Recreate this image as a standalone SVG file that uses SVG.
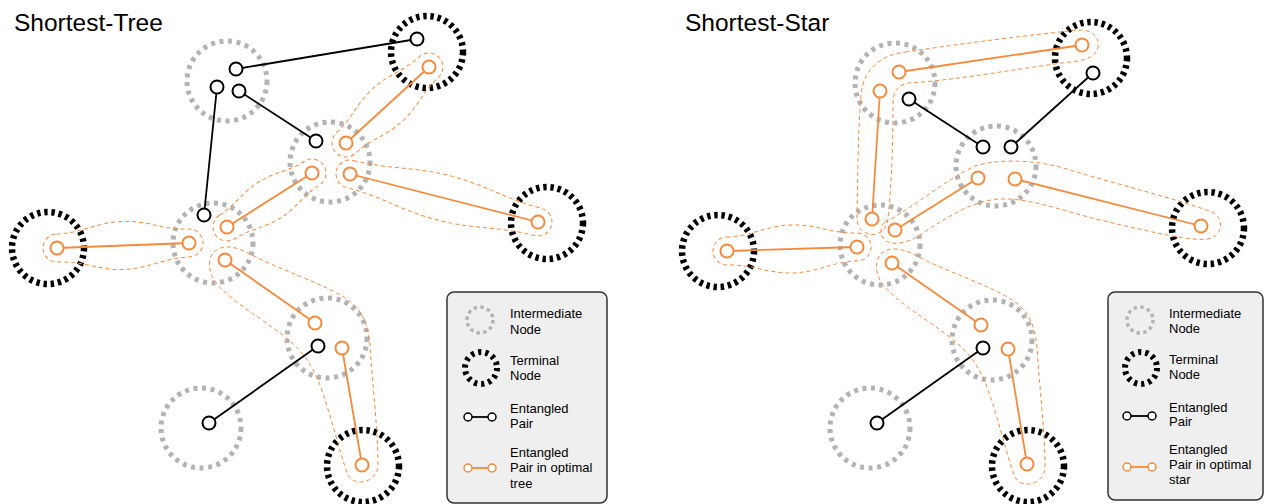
<svg xmlns="http://www.w3.org/2000/svg" width="1265" height="504" viewBox="0 0 1265 504">
<style>
.inter{fill:none;stroke:#b3b3b3;stroke-width:5;stroke-dasharray:4 4.6}
.term{fill:none;stroke:#000;stroke-width:6.5;stroke-dasharray:3.4 3.8}
.linter{fill:none;stroke:#b3b3b3;stroke-width:3.5;stroke-dasharray:3.4 3.4}
.lterm{fill:none;stroke:#000;stroke-width:6;stroke-dasharray:3.2 4}
.hull{fill:none;stroke:#f7893b;stroke-width:1;stroke-dasharray:4 3}
.ln{stroke:#000;stroke-width:1.8;fill:none}
.lno{stroke:#f7893b;stroke-width:1.8;fill:none}
.ep{fill:#fff;stroke:#000;stroke-width:2}
.epo{fill:#fff;stroke:#f7893b;stroke-width:2}
.lep{fill:#fff;stroke:#000;stroke-width:1.5}
.lepo{fill:#fff;stroke:#f7893b;stroke-width:1.5}
.title{font-family:"Liberation Sans",Arial,sans-serif;font-size:24.5px;fill:#000}
.leg{font-family:"Liberation Sans",Arial,sans-serif;font-size:13px;fill:#000}
.box{fill:#efefef;stroke:#333;stroke-width:1.5}
</style>

<!-- ================= LEFT PANEL ================= -->
<text class="title" x="14" y="31">Shortest-Tree</text>

<g id="L-I1"><circle class="inter" cx="227" cy="81" r="40"/></g>
<g id="L-I2"><circle class="inter" cx="330" cy="162" r="40"/></g>
<g id="L-I3"><circle class="inter" cx="213" cy="243" r="40"/></g>
<g id="L-I4"><circle class="inter" cx="327" cy="338" r="40"/></g>
<g id="L-I5"><circle class="inter" cx="201" cy="428" r="40"/></g>
<g id="L-T1"><circle class="term" cx="427" cy="52" r="36"/></g>
<g id="L-T2"><circle class="term" cx="547" cy="223" r="36"/></g>
<g id="L-T3"><circle class="term" cx="48" cy="248" r="36"/></g>
<g id="L-T4"><circle class="term" cx="363" cy="466" r="36"/></g>

<g id="L-connectors">
  <g id="L-hulls">
    <path class="hull" transform="translate(346,143) rotate(-42.5)" d="M0,-14 C22.5,-14 33.8,-22 56.3,-22 S90,-14 112.5,-14 A14,14 0 0 1 112.5,14 C90,14 78.8,22 56.3,22 S22.5,14 0,14 A14,14 0 0 1 0,-14Z"/>
    <path class="hull" transform="translate(227,227) rotate(-32.4)" d="M0,-14 C20.1,-14 30.2,-21 50.4,-21 S80.6,-14 100.7,-14 A14,14 0 0 1 100.7,14 C80.6,14 70.5,21 50.4,21 S20.1,14 0,14 A14,14 0 0 1 0,-14Z"/>
    <path class="hull" transform="translate(350,174) rotate(14.3)" d="M0,-14 C38.8,-14 58.2,-23 97,-23 S155.2,-14 194,-14 A14,14 0 0 1 194,14 C155.2,14 135.8,23 97,23 S38.8,14 0,14 A14,14 0 0 1 0,-14Z"/>
    <path class="hull" transform="translate(57,248) rotate(-2.2)" d="M0,-14 C26.4,-14 39.6,-24 66.1,-24 S105.7,-14 132.1,-14 A14,14 0 0 1 132.1,14 C105.7,14 92.5,24 66.1,24 S26.4,14 0,14 A14,14 0 0 1 0,-14Z"/>
    <path id="L-merged" class="hull" d="M214,252 C222,244 236,246 250,254 C280,270 320,282 345,298 C362,308 368,325 370,345 C372,380 378,430 378,465 C378,482 355,488 348,475 C340,455 330,410 318,380 C305,350 290,340 262,320 C240,305 222,292 214,280 C208,270 208,258 214,252Z"/>
  </g>
  <g id="L-pairs">
    <line class="ln" x1="236" y1="69" x2="417" y2="39"/>
    <line class="ln" x1="239" y1="91" x2="316" y2="141"/>
    <line class="ln" x1="217" y1="87" x2="204" y2="215"/>
    <line class="ln" x1="318" y1="346" x2="209" y2="423"/>
    <line class="lno" x1="429" y1="67" x2="346" y2="143"/>
    <line class="lno" x1="312" y1="173" x2="227" y2="227"/>
    <line class="lno" x1="350" y1="174" x2="538" y2="222"/>
    <line class="lno" x1="57" y1="248" x2="189" y2="243"/>
    <line class="lno" x1="225" y1="260" x2="315" y2="323"/>
    <line class="lno" x1="342" y1="348" x2="362" y2="465"/>
    <circle class="ep" cx="236" cy="69" r="6.5"/>
    <circle class="ep" cx="417" cy="39" r="6.5"/>
    <circle class="ep" cx="239" cy="91" r="6.5"/>
    <circle class="ep" cx="316" cy="141" r="6.5"/>
    <circle class="ep" cx="217" cy="87" r="6.5"/>
    <circle class="ep" cx="204" cy="215" r="6.5"/>
    <circle class="ep" cx="318" cy="346" r="6.5"/>
    <circle class="ep" cx="209" cy="423" r="6.5"/>
    <circle class="epo" cx="429" cy="67" r="6.5"/>
    <circle class="epo" cx="346" cy="143" r="6.5"/>
    <circle class="epo" cx="312" cy="173" r="6.5"/>
    <circle class="epo" cx="227" cy="227" r="6.5"/>
    <circle class="epo" cx="350" cy="174" r="6.5"/>
    <circle class="epo" cx="538" cy="222" r="6.5"/>
    <circle class="epo" cx="57" cy="248" r="6.5"/>
    <circle class="epo" cx="189" cy="243" r="6.5"/>
    <circle class="epo" cx="225" cy="260" r="6.5"/>
    <circle class="epo" cx="315" cy="323" r="6.5"/>
    <circle class="epo" cx="342" cy="348" r="6.5"/>
    <circle class="epo" cx="362" cy="465" r="6.5"/>
  </g>
</g>

<g id="L-legend">
  <rect class="box" x="447" y="292" width="160" height="211" rx="7"/>
  <circle class="linter" cx="480" cy="320" r="13"/>
  <text class="leg" x="510" y="318">Intermediate</text>
  <text class="leg" x="510" y="334">Node</text>
  <circle class="lterm" cx="481" cy="368" r="16"/>
  <text class="leg" x="510" y="365">Terminal</text>
  <text class="leg" x="510" y="380">Node</text>
  <line class="ln" x1="468" y1="417" x2="492" y2="417"/>
  <circle class="lep" cx="468" cy="417" r="4"/>
  <circle class="lep" cx="492" cy="417" r="4"/>
  <text class="leg" x="510" y="413">Entangled</text>
  <text class="leg" x="510" y="428">Pair</text>
  <line class="lno" x1="468" y1="468" x2="492" y2="468"/>
  <circle class="lepo" cx="468" cy="468" r="4"/>
  <circle class="lepo" cx="492" cy="468" r="4"/>
  <text class="leg" x="510" y="457">Entangled</text>
  <text class="leg" x="510" y="472">Pair in optimal</text>
  <text class="leg" x="510" y="488">tree</text>
</g>

<!-- ================= RIGHT PANEL ================= -->
<text class="title" x="685" y="31">Shortest-Star</text>

<g id="R-I1"><circle class="inter" cx="895" cy="83" r="40"/></g>
<g id="R-I2"><circle class="inter" cx="996" cy="166" r="40"/></g>
<g id="R-I3"><circle class="inter" cx="880" cy="245" r="40"/></g>
<g id="R-I4"><circle class="inter" cx="992" cy="340" r="40"/></g>
<g id="R-I5"><circle class="inter" cx="870" cy="428" r="40"/></g>
<g id="R-T1"><circle class="term" cx="1091" cy="58" r="36"/></g>
<g id="R-T2"><circle class="term" cx="1208" cy="228" r="36"/></g>
<g id="R-T3"><circle class="term" cx="718" cy="251" r="36"/></g>
<g id="R-T4"><circle class="term" cx="1028" cy="466" r="36"/></g>

<g id="R-connectors">
  <g id="R-hulls">
    <path class="hull" d="M905,52 C960,44 1020,36 1078,30 C1092,29 1100,38 1098,47 C1096,56 1088,59 1078,61 C1020,68 960,80 908,83 C898,85 893,92 893,102 C893,140 892,180 888,218 C887,232 876,236 869,234 C860,232 856,224 857,214 C858,170 858,130 861,95 C863,70 880,55 905,52Z"/>
    <path class="hull" d="M885,222 C910,210 945,180 975,166 C1000,158 1040,160 1070,170 C1120,185 1180,200 1212,212 C1224,217 1224,236 1208,239 C1190,241 1160,234 1100,220 C1060,210 1030,198 1000,199 C975,200 950,215 920,235 C905,245 888,246 883,238 C880,233 880,226 885,222Z"/>
    <path class="hull" transform="translate(727,251) rotate(-1.8)" d="M0,-14 C26,-14 39,-24 65.1,-24 S104.1,-14 130.1,-14 A14,14 0 0 1 130.1,14 C104.1,14 91.1,24 65.1,24 S26,14 0,14 A14,14 0 0 1 0,-14Z"/>
    <path class="hull" transform="translate(667,2)" d="M214,252 C222,244 236,246 250,254 C280,270 320,282 345,298 C362,308 368,325 370,345 C372,380 378,430 378,465 C378,482 355,488 348,475 C340,455 330,410 318,380 C305,350 290,340 262,320 C240,305 222,292 214,280 C208,270 208,258 214,252Z"/>
  </g>
  <g id="R-pairs">
    <line class="ln" x1="909" y1="99" x2="983" y2="147"/>
    <line class="ln" x1="1011" y1="147" x2="1093" y2="73"/>
    <line class="ln" x1="983" y1="348" x2="877" y2="423"/>
    <line class="lno" x1="899" y1="72" x2="1082" y2="45"/>
    <line class="lno" x1="880" y1="91" x2="872" y2="219"/>
    <line class="lno" x1="978" y1="178" x2="895" y2="230"/>
    <line class="lno" x1="1015" y1="179" x2="1201" y2="226"/>
    <line class="lno" x1="727" y1="251" x2="857" y2="247"/>
    <line class="lno" x1="892" y1="263" x2="981" y2="325"/>
    <line class="lno" x1="1008" y1="349" x2="1027" y2="464"/>
    <circle class="ep" cx="909" cy="99" r="6.5"/>
    <circle class="ep" cx="983" cy="147" r="6.5"/>
    <circle class="ep" cx="1011" cy="147" r="6.5"/>
    <circle class="ep" cx="1093" cy="73" r="6.5"/>
    <circle class="ep" cx="983" cy="348" r="6.5"/>
    <circle class="ep" cx="877" cy="423" r="6.5"/>
    <circle class="epo" cx="899" cy="72" r="6.5"/>
    <circle class="epo" cx="1082" cy="45" r="6.5"/>
    <circle class="epo" cx="880" cy="91" r="6.5"/>
    <circle class="epo" cx="872" cy="219" r="6.5"/>
    <circle class="epo" cx="978" cy="178" r="6.5"/>
    <circle class="epo" cx="895" cy="230" r="6.5"/>
    <circle class="epo" cx="1015" cy="179" r="6.5"/>
    <circle class="epo" cx="1201" cy="226" r="6.5"/>
    <circle class="epo" cx="727" cy="251" r="6.5"/>
    <circle class="epo" cx="857" cy="247" r="6.5"/>
    <circle class="epo" cx="892" cy="263" r="6.5"/>
    <circle class="epo" cx="981" cy="325" r="6.5"/>
    <circle class="epo" cx="1008" cy="349" r="6.5"/>
    <circle class="epo" cx="1027" cy="464" r="6.5"/>
  </g>
</g>

<g id="R-legend">
  <rect class="box" x="1108" y="292" width="155" height="208" rx="7"/>
  <circle class="linter" cx="1140" cy="320" r="13"/>
  <text class="leg" x="1169" y="318">Intermediate</text>
  <text class="leg" x="1169" y="333">Node</text>
  <circle class="lterm" cx="1141" cy="368" r="16"/>
  <text class="leg" x="1169" y="364">Terminal</text>
  <text class="leg" x="1169" y="379">Node</text>
  <line class="ln" x1="1127" y1="416" x2="1152" y2="416"/>
  <circle class="lep" cx="1127" cy="416" r="4"/>
  <circle class="lep" cx="1152" cy="416" r="4"/>
  <text class="leg" x="1169" y="412">Entangled</text>
  <text class="leg" x="1169" y="426">Pair</text>
  <line class="lno" x1="1127" y1="467" x2="1152" y2="467"/>
  <circle class="lepo" cx="1127" cy="467" r="4"/>
  <circle class="lepo" cx="1152" cy="467" r="4"/>
  <text class="leg" x="1169" y="454">Entangled</text>
  <text class="leg" x="1169" y="469">Pair in optimal</text>
  <text class="leg" x="1169" y="484">star</text>
</g>
</svg>
